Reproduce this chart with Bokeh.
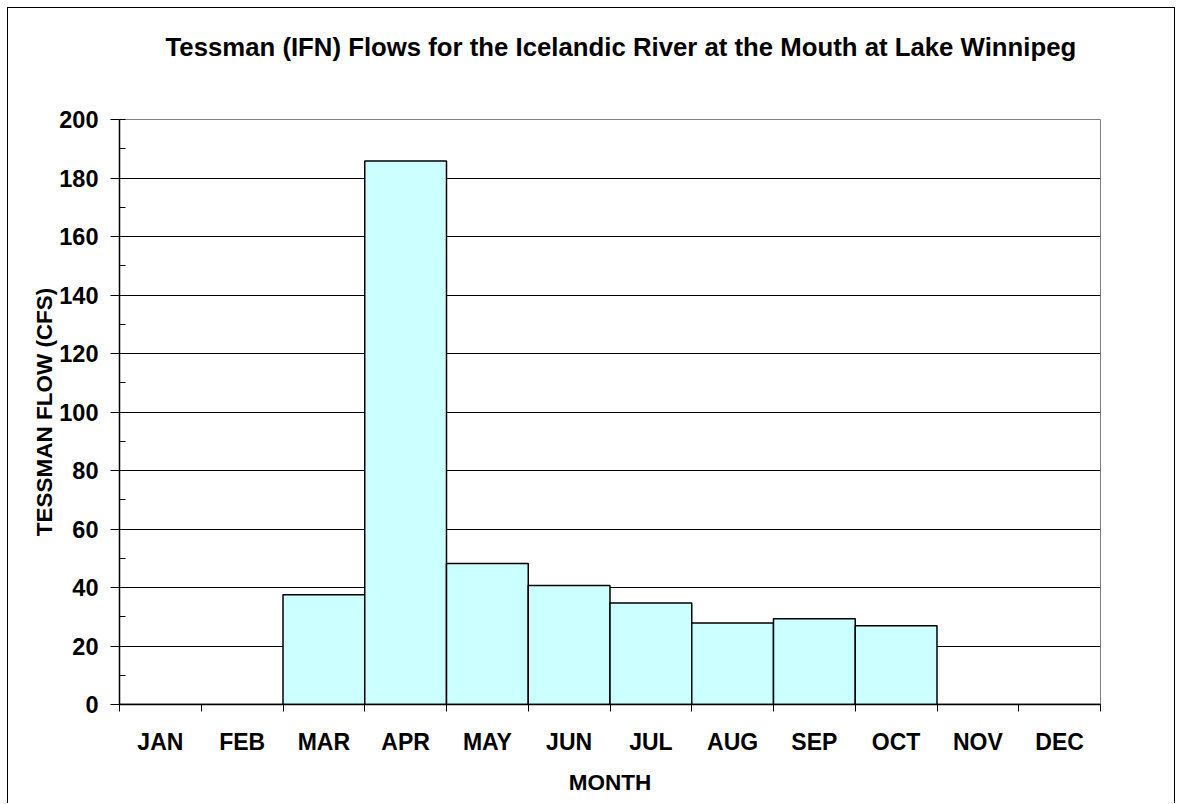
from bokeh.plotting import figure
from bokeh.models import Range1d, FixedTicker, SingleIntervalTicker, Title
from bokeh.embed import file_html
from bokeh.resources import INLINE

months = ["JAN", "FEB", "MAR", "APR", "MAY", "JUN", "JUL", "AUG", "SEP", "OCT", "NOV", "DEC"]
flows = [0, 0, 37.5, 185.8, 48.2, 40.7, 34.7, 27.9, 29.3, 26.9, 0, 0]
y_max = 200
y_step = 20
title_text = "Tessman (IFN) Flows for the Icelandic River at the Mouth at Lake Winnipeg"

centers = [i + 0.5 for i in range(len(months))]
bounds = list(range(len(months) + 1))

FONT = "Liberation Sans"

p = figure(width=1168, height=796, output_backend="svg", toolbar_location=None,
           x_range=Range1d(0, len(months)), y_range=Range1d(0, y_max),
           min_border_left=111, min_border_right=76, min_border_top=111, min_border_bottom=100)
p.title = None

# spacer panel between the frame and the chart title
spacer = Title(text=" ", text_font=FONT, text_font_size="10px", standoff=46)
p.add_layout(spacer, "above")
t = Title(text=title_text, align="left", text_font=FONT, text_font_size="25.75px",
          text_font_style="bold", text_color="black", standoff=0, offset=46)
p.add_layout(t, "above")

p.background_fill_color = "white"
p.border_fill_color = "white"
p.outline_line_color = "#808080"
p.outline_line_width = 1

p.vbar(x=centers, top=flows, width=1, fill_color="#CCFFFF", line_color="black", line_width=1.5)

# x axis
xa = p.xaxis[0]
xa.ticker = FixedTicker(ticks=centers, minor_ticks=bounds)
xa.major_label_overrides = {c: m for c, m in zip(centers, months)}
xa.major_tick_out = 0
xa.major_tick_in = 0
xa.minor_tick_out = 7
xa.minor_tick_in = 0
xa.minor_tick_line_color = "black"
xa.axis_line_color = "black"
xa.axis_line_width = 1.5
xa.major_label_text_font = FONT
xa.major_label_text_font_size = "23px"
xa.major_label_text_font_style = "bold"
xa.major_label_text_color = "black"
xa.major_label_standoff = 17
xa.axis_label = "MONTH"
xa.axis_label_text_font = FONT
xa.axis_label_text_font_size = "22.5px"
xa.axis_label_text_font_style = "bold"
xa.axis_label_text_color = "black"
xa.axis_label_standoff = 12

# y axis
ya = p.yaxis[0]
ya.ticker = SingleIntervalTicker(interval=y_step, num_minor_ticks=2)
ya.major_tick_out = 9
ya.major_tick_in = 0
ya.minor_tick_out = 0
ya.minor_tick_in = 6
ya.major_tick_line_color = "black"
ya.minor_tick_line_color = "black"
ya.axis_line_color = "black"
ya.axis_line_width = 1.5
ya.major_label_text_font = FONT
ya.major_label_text_font_size = "23.5px"
ya.major_label_text_font_style = "bold"
ya.major_label_text_color = "black"
ya.major_label_standoff = 12
ya.axis_label = "TESSMAN FLOW (CFS)"
ya.axis_label_text_font = FONT
ya.axis_label_text_font_size = "22.5px"
ya.axis_label_text_font_style = "bold"
ya.axis_label_text_color = "black"
ya.axis_label_standoff = -1

p.xgrid.visible = False
p.ygrid.ticker = FixedTicker(ticks=list(range(y_step, y_max, y_step)))
p.ygrid.grid_line_color = "black"
p.ygrid.grid_line_width = 1

p.styles = {"margin-left": "7px", "margin-top": "7px",
            "border-left": "1px solid black", "border-top": "1px solid black",
            "border-right": "1px solid black"}

open("out.html", "w").write(file_html(p, INLINE))
